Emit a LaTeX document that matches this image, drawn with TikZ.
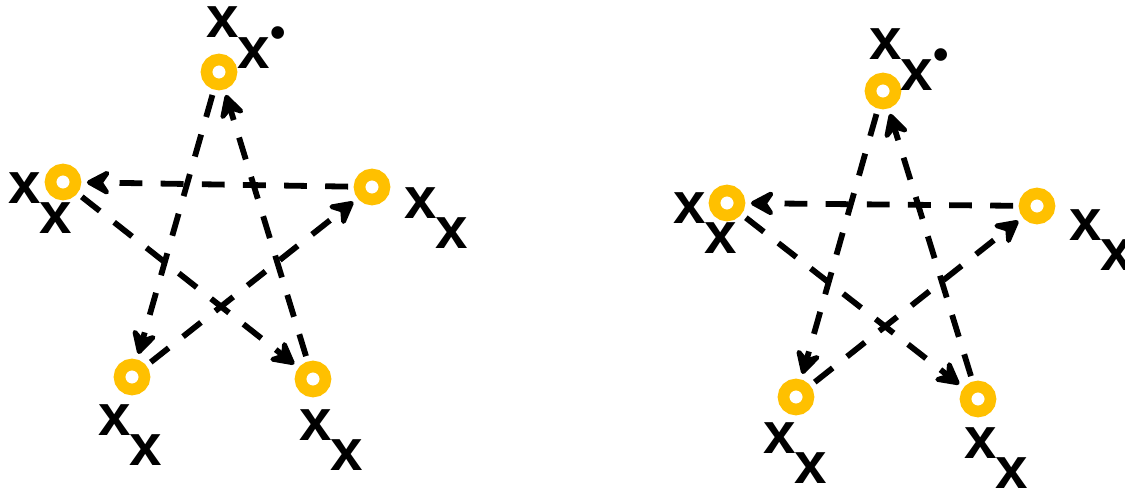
\documentclass[tikz,border=0pt]{standalone}
\usepackage{fontspec}
\setmainfont{Liberation Sans}
\usetikzlibrary{arrows.meta, backgrounds}
\definecolor{cRing}{HTML}{FFC000}
\newcommand{\xsub}{x\kern-0.6pt\raisebox{-8.8pt}{x}}
\newcommand{\xsubdot}{x\kern-0.6pt\raisebox{-8.8pt}{x}\kern0.2pt%
  \raisebox{-2.6pt}{\fontsize{12.5}{12.5}\selectfont •}}

\begin{document}
\begin{tikzpicture}[
  x=0.01cm, y=-0.01cm,
  font=\fontsize{16.6}{18}\selectfont\bfseries,
  >={Stealth[length=8.4pt, width=9pt, inset=3pt, round]},
  ring/.style={circle, draw=cRing, line width=3.3pt, fill=white,
               minimum size=0.25cm, inner sep=0pt},
  flow/.style={->, line width=1.65pt, dash pattern=on 6.5pt off 5.2pt,
               shorten >=1.6pt, shorten <=1.6pt},
  lab/.style={anchor=base west, inner sep=0pt},
]
\useasboundingbox (0,0) rectangle (1125,491);

% ---- left star ---------------------------------------------------------
\node[ring] (lTop)   at (219,72)  {};
\node[ring] (lLeft)  at (63,182)  {};
\node[ring] (lRight) at (372,187) {};
\node[ring] (lBotL)  at (132,377) {};
\node[ring] (lBotR)  at (313,379) {};

\node[lab] (lTopT)   at (206,38)  {\xsubdot};
\node[lab] (lLeftT)  at (8,203)   {\xsub};
\node[lab] (lRightT) at (404,218) {\xsub};
\node[lab] (lBotLT)  at (98,435)  {\xsub};
\node[lab] (lBotRT)  at (299,440) {\xsub};

% ---- right star --------------------------------------------------------
\node[ring] (rTop)   at (883,91)  {};
\node[ring] (rLeft)  at (727,203) {};
\node[ring] (rRight) at (1037,206) {};
\node[ring] (rBotL)  at (796,397) {};
\node[ring] (rBotR)  at (978,399) {};

\node[lab] (rTopT)   at (869,60)  {\xsubdot};
\node[lab] (rLeftT)  at (673,223) {\xsub};
\node[lab] (rRightT) at (1069,240) {\xsub};
\node[lab] (rBotLT)  at (763,453) {\xsub};
\node[lab] (rBotRT)  at (964,458) {\xsub};

% ---- dashed cycles -----------------------------------------------------
\begin{scope}[on background layer]
  \foreach \s in {l, r} {
    \foreach \u/\v in {Top/BotL, BotL/Right, Right/Left, Left/BotR, BotR/Top}
      \draw[flow] (\s\u) -- (\s\v);
  }
\end{scope}

\end{tikzpicture}
\end{document}
